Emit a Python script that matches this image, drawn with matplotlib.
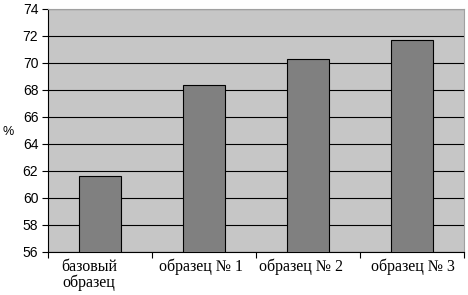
import numpy as np
import matplotlib.pyplot as plt
import matplotlib.transforms as mtransforms

# chart data
categories = ['базовый\nобразец', 'образец № 1', 'образец № 2', 'образец № 3']
values = [61.6, 68.4, 70.3, 71.7]
yticks = list(range(56, 75, 2))

fig = plt.figure(figsize=(4.68, 2.95), dpi=100)
ax = fig.add_axes([48 / 468, 43 / 295, 416 / 468, 243 / 295])
ax.set_facecolor('#c6c6c6')

x = np.arange(len(categories))
ax.bar(x, values, width=0.4, color='#808080', edgecolor='black', linewidth=0.8,
       zorder=3)

ax.set_xlim(-0.5, len(categories) - 0.5)
ax.set_ylim(56, 74)
ax.set_yticks(yticks)
ax.set_yticklabels([str(t) for t in yticks], fontfamily='Liberation Sans', fontsize=10)
ax.yaxis.grid(True, color='black', linewidth=0.8, zorder=1)
ax.set_axisbelow(True)

# category labels between boundary ticks
ax.set_xticks(np.arange(-0.5, len(categories), 1.0))
ax.set_xticklabels([])
ax.set_xticks(x, minor=True)
ax.set_xticklabels(categories, minor=True, fontfamily='Liberation Serif', fontsize=11.5,
                   linespacing=0.95)
ax.tick_params(axis='x', which='minor', length=0, pad=5)
ax.tick_params(axis='x', which='major', length=4, direction='out')
ax.tick_params(axis='y', length=4, direction='out', pad=3)

# nudge labels sideways like the original layout
shifts = [-11, -3, -7, 1]
for lab, dx in zip(ax.get_xticklabels(minor=True), shifts):
    lab.set_transform(lab.get_transform() +
                      mtransforms.ScaledTranslation(dx / 100, 0, fig.dpi_scale_trans))

for side in ['top', 'right']:
    ax.spines[side].set_color('#a0a0a0')
for side in ['left', 'bottom']:
    ax.spines[side].set_color('black')
    ax.spines[side].set_linewidth(0.8)

ax.set_ylabel('%', rotation=0, fontfamily='Liberation Sans', fontsize=9)
ax.yaxis.set_label_coords(-0.095, 0.47)

fig.savefig('out.png', dpi=100)
